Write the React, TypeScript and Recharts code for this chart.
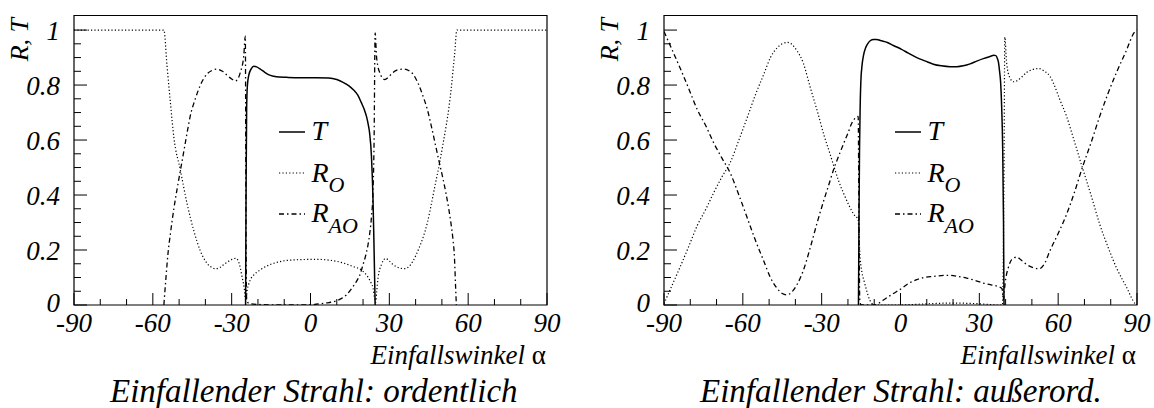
import React from 'react';
import { LineChart, Line, XAxis, YAxis, ReferenceArea } from 'recharts';

type Pt = [number, number];

// Einfallender Strahl: ordentlich
const ordT: Pt[] = [
  [-24.7, 0], [-24.5, 0.45], [-24.3, 0.72], [-24.0, 0.8], [-23.5, 0.835], [-22.5, 0.86],
  [-21.6, 0.868], [-20.5, 0.866], [-19.1, 0.858], [-17.5, 0.847], [-16.0, 0.838], [-14, 0.832],
  [-12, 0.829], [-9, 0.828], [-4, 0.827], [2, 0.827], [7, 0.826], [10, 0.82], [12.4, 0.81],
  [14.5, 0.798], [16.2, 0.784], [18, 0.763], [19.4, 0.735], [20.5, 0.71], [21.3, 0.686],
  [22, 0.655], [22.5, 0.625], [23.2, 0.54], [23.8, 0.38], [24.2, 0.2], [24.6, 0],
];
const ordRO: Pt[] = [
  [-90, 1], [-55.8, 1], [-54.6, 0.87], [-53.3, 0.735], [-52, 0.61], [-49.5, 0.49], [-47, 0.37],
  [-44.4, 0.27], [-41.9, 0.196], [-39.4, 0.152], [-37.5, 0.136], [-36.2, 0.132], [-34.5, 0.136],
  [-33, 0.147], [-31.5, 0.157], [-29.9, 0.166], [-28.4, 0.17], [-27.4, 0.158], [-26.6, 0.13],
  [-26.1, 0.105], [-25.2, 0.06], [-24.7, 0.018], [-24.5, 0.02], [-24.2, 0.047], [-23.5, 0.076],
  [-22.5, 0.099], [-21.6, 0.109], [-19.1, 0.128], [-15.4, 0.147], [-12, 0.157], [-9, 0.162],
  [-4, 0.165], [2, 0.166], [7.3, 0.163], [12.4, 0.153], [16.2, 0.14], [19.4, 0.127],
  [21.9, 0.101], [23.2, 0.077], [23.8, 0.062], [24.4, 0.025], [24.8, 0.01], [25.2, 0.05],
  [25.7, 0.098], [27, 0.147], [28.6, 0.169], [30, 0.16], [31.4, 0.147], [33.5, 0.136],
  [35.8, 0.132], [37.5, 0.14], [39, 0.16], [41, 0.2], [42.8, 0.245], [44.5, 0.3], [46, 0.368],
  [47.5, 0.44], [49.1, 0.515], [50.5, 0.59], [51.6, 0.65], [52.7, 0.72], [53.5, 0.784],
  [54.2, 0.85], [54.8, 0.907], [55.7, 1], [90, 1],
];
const ordRAO: Pt[] = [
  [-55.8, 0], [-55, 0.1], [-54.2, 0.19], [-53.3, 0.26], [-52, 0.35], [-50.8, 0.42], [-49.5, 0.49],
  [-48, 0.57], [-46.8, 0.635], [-45.7, 0.69], [-44, 0.745], [-41.9, 0.8], [-39.4, 0.84],
  [-37.5, 0.853], [-35.6, 0.858], [-33.5, 0.85], [-31.8, 0.836], [-30, 0.822], [-28.6, 0.815],
  [-27.5, 0.825], [-26.7, 0.846], [-25.4, 0.907], [-24.8, 0.978], [-24.55, 0.3], [-24.3, 0.02],
  [-23.5, 0.006], [-20, 0.002], [-10, 0], [0, 0.001], [4.8, 0.006], [7, 0.009], [9.9, 0.015],
  [12, 0.025], [13.7, 0.037], [15.5, 0.058], [17.5, 0.086], [19, 0.115], [20, 0.147], [21, 0.18],
  [21.9, 0.22], [22.6, 0.265], [23.2, 0.32], [23.8, 0.417], [24.2, 0.6], [24.6, 0.99],
  [25.1, 0.907], [25.6, 0.87], [26.3, 0.846], [27.2, 0.828], [28.2, 0.82], [29.8, 0.83],
  [31.4, 0.846], [33.5, 0.856], [35.8, 0.858], [37.5, 0.852], [39, 0.84], [41, 0.805],
  [42.8, 0.76], [44.5, 0.71], [46, 0.65], [47.6, 0.58], [49.1, 0.515], [50.4, 0.46], [51.6, 0.404],
  [52.6, 0.35], [53.5, 0.294], [54.2, 0.24], [54.8, 0.17], [55.2, 0.07], [55.5, 0],
];

// Einfallender Strahl: außerordentlich
const aoT: Pt[] = [
  [-16, 0], [-15.8, 0.3], [-15.6, 0.56], [-15.35, 0.72], [-15.1, 0.81], [-14.6, 0.875],
  [-14.1, 0.907], [-13.3, 0.935], [-12.5, 0.95], [-11.4, 0.962], [-10.3, 0.966], [-9, 0.966],
  [-7.7, 0.962], [-5, 0.955], [-2.7, 0.944], [0.4, 0.93], [3, 0.916], [6.2, 0.9], [9.5, 0.887],
  [12.5, 0.876], [15.5, 0.87], [18.9, 0.867], [21.5, 0.867], [23.9, 0.87], [26.5, 0.877],
  [29, 0.887], [31.5, 0.896], [34.1, 0.904], [35.5, 0.908], [36.3, 0.907], [36.9, 0.896],
  [37.3, 0.882], [37.7, 0.85], [38.1, 0.81], [38.5, 0.72], [38.9, 0.564], [39.2, 0.3], [39.4, 0],
];
const aoRO: Pt[] = [
  [-90, 0.005], [-87, 0.07], [-83.7, 0.142], [-80.5, 0.215], [-77.3, 0.29], [-74, 0.35],
  [-71, 0.41], [-68, 0.465], [-64.7, 0.52], [-61.5, 0.6], [-58.4, 0.68], [-55, 0.77], [-52, 0.84],
  [-49.5, 0.9], [-47, 0.935], [-45, 0.95], [-43, 0.955], [-41, 0.945], [-39.4, 0.925], [-37, 0.88],
  [-34.3, 0.79], [-31.5, 0.7], [-29.2, 0.62], [-27, 0.555], [-25.2, 0.5], [-23.5, 0.45],
  [-21.6, 0.405], [-19.5, 0.36], [-17.8, 0.33], [-16.1, 0.31], [-15.8, 0.25], [-15.3, 0.165],
  [-14.7, 0.12], [-13.8, 0.085], [-12.8, 0.05], [-11.8, 0.02], [-10.9, 0.006], [-10, 0], [0, 0],
  [5, 0.002], [12, 0.005], [19, 0.007], [26, 0.006], [31, 0.004], [36.6, 0], [38.8, 0],
  [39.4, 0.5], [39.7, 0.974], [40.4, 0.88], [41.6, 0.827], [43, 0.812], [44.2, 0.815],
  [46, 0.828], [48, 0.846], [50.5, 0.857], [52.8, 0.86], [54.8, 0.85], [56.8, 0.833], [58.5, 0.8],
  [60.5, 0.75], [63.2, 0.686], [66, 0.6], [69.2, 0.5], [72.5, 0.4], [75.8, 0.294], [79, 0.21],
  [82.2, 0.135], [86, 0.065], [89.3, 0.005], [90, 0],
];
const aoRAO: Pt[] = [
  [-90, 0.995], [-87, 0.93], [-83.7, 0.858], [-80.5, 0.785], [-77.3, 0.71], [-74, 0.65],
  [-71, 0.588], [-68, 0.535], [-64.7, 0.478], [-61.5, 0.4], [-58.4, 0.319], [-55, 0.23],
  [-52, 0.159], [-49.5, 0.1], [-47, 0.061], [-45, 0.042], [-43.2, 0.037], [-41.3, 0.048],
  [-39.4, 0.074], [-37, 0.125], [-34.3, 0.21], [-31.7, 0.3], [-29.2, 0.38], [-27.2, 0.44],
  [-25.2, 0.5], [-23.4, 0.545], [-21.6, 0.588], [-20, 0.625], [-18.5, 0.662], [-17.2, 0.68],
  [-16.1, 0.686], [-15.8, 0.3], [-15.5, 0.02], [-15, 0], [-9.6, 0], [-8, 0.008], [-6.5, 0.018],
  [-3, 0.04], [0.4, 0.06], [3, 0.078], [6.2, 0.092], [9, 0.1], [12.5, 0.104], [15.5, 0.107],
  [18.9, 0.108], [22, 0.104], [25.2, 0.098], [28.5, 0.089], [31.5, 0.08], [34.5, 0.073],
  [37.2, 0.067], [38.6, 0.06], [39.2, 0.02], [39.5, 0.05], [40.1, 0.098], [41, 0.135],
  [42.3, 0.165], [44.2, 0.174], [46, 0.163], [48, 0.147], [50.5, 0.136], [52.8, 0.132],
  [54.8, 0.15], [56.8, 0.196], [60, 0.26], [63.2, 0.33], [66.2, 0.41], [69.2, 0.5], [72.5, 0.59],
  [75.8, 0.686], [79, 0.77], [82.2, 0.846], [85.7, 0.92], [89.1, 0.993], [90, 1],
];

const xTicks = [-90, -80, -70, -60, -50, -40, -30, -20, -10, 0, 10, 20, 30, 40, 50, 60, 70, 80, 90];
const xLabels = [-90, -60, -30, 0, 30, 60, 90];
const yTicks = [0, 0.05, 0.1, 0.15, 0.2, 0.25, 0.3, 0.35, 0.4, 0.45, 0.5, 0.55, 0.6, 0.65, 0.7, 0.75, 0.8, 0.85, 0.9, 0.95, 1];
const yLabels = [0, 0.2, 0.4, 0.6, 0.8, 1];
const YMAX = 1.053;

const W = 577;
const H = 408;
const PLOT_TOP = 15.5;
const PLOT_BOTTOM = 305;

const SERIF = "'Liberation Serif', 'DejaVu Serif', 'Times New Roman', Times, serif";

// italic Times-like text
const txt = (size: number) => ({
  style: { fontFamily: SERIF, fontStyle: 'italic' as const, fontSize: size },
  fill: '#000',
});

const DOTTED = '1.2 2.2';
const DASHDOT = '5 3 1.5 3';

const rows = (pts: Pt[]) => pts.map(([x, y]) => ({ x, y }));

const XTick = (props: any) => {
  const { x, y, payload } = props;
  const v = payload.value;
  const major = xLabels.includes(v);
  return (
    <g>
      <line x1={x} x2={x} y1={y} y2={y - (major ? 12 : 6)} stroke="#000" strokeWidth={1} />
      {major && (
        <text x={x} y={y + 27} textAnchor="middle" {...txt(27)}>
          {v}
        </text>
      )}
    </g>
  );
};

const YTick = (props: any) => {
  const { x, y, payload } = props;
  const v = payload.value;
  const major = yLabels.includes(v);
  return (
    <g>
      <line x1={x} x2={x + (major ? 13 : 7)} y1={y} y2={y} stroke="#000" strokeWidth={1} />
      {major && (
        <text x={x - 14} y={y + (v === 0 ? 7 : 10)} textAnchor="end" {...txt(27)}>
          {v === 0 || v === 1 ? String(v) : v.toFixed(1)}
        </text>
      )}
    </g>
  );
};

type PanelProps = {
  left: number;
  plotLeft: number;
  plotRight: number;
  t: Pt[];
  ro: Pt[];
  rao: Pt[];
  title: string;
  legendX: number;
};

const Panel = ({ left, plotLeft, plotRight, t, ro, rao, title, legendX }: PanelProps) => (
  <div style={{ position: 'absolute', left, top: 0, width: W, height: H, fontFamily: SERIF }}>
    <LineChart
      width={W}
      height={H}
      margin={{ top: PLOT_TOP, left: plotLeft - 60, right: W - plotRight, bottom: H - PLOT_BOTTOM - 30 }}
    >
      <XAxis
        type="number"
        dataKey="x"
        domain={[-90, 90]}
        ticks={xTicks}
        interval={0}
        height={30}
        tickSize={0}
        tickMargin={0}
        tickLine={false}
        axisLine={false}
        allowDataOverflow
        tick={(p: any) => <XTick {...p} />}
      />
      <YAxis
        type="number"
        domain={[0, YMAX]}
        ticks={yTicks}
        interval={0}
        width={60}
        tickSize={0}
        tickMargin={0}
        tickLine={false}
        axisLine={false}
        allowDataOverflow
        tick={(p: any) => <YTick {...p} />}
      />
      <ReferenceArea x1={-90} x2={90} y1={0} y2={YMAX} fill="none" stroke="#000" strokeWidth={1.2} />
      <Line data={rows(ro)} dataKey="y" type="monotone" stroke="#000" strokeWidth={1.2}
        strokeDasharray={DOTTED} dot={false} activeDot={false} isAnimationActive={false} />
      <Line data={rows(rao)} dataKey="y" type="monotone" stroke="#000" strokeWidth={1.3}
        strokeDasharray={DASHDOT} dot={false} activeDot={false} isAnimationActive={false} />
      <Line data={rows(t)} dataKey="y" type="monotone" stroke="#000" strokeWidth={1.5}
        dot={false} activeDot={false} isAnimationActive={false} />
    </LineChart>
    <svg width={W} height={H} style={{ position: 'absolute', left: 0, top: 0, pointerEvents: 'none' }}>
      <text transform={`translate(${plotLeft - 46}, 18) rotate(-90)`} textAnchor="end" {...txt(26)}>
        R, T
      </text>
      <text x={plotRight - 1} y={364} textAnchor="end" {...txt(27)}>
        Einfallswinkel <tspan style={{ fontStyle: 'normal' }}>α</tspan>
      </text>
      <text x={plotLeft + 36} y={402} {...txt(33)}>
        {title}
      </text>
      {/* legend */}
      <line x1={legendX} x2={legendX + 26} y1={132} y2={132} stroke="#000" strokeWidth={1.5} />
      <text x={legendX + 32.5} y={140} {...txt(28)}>T</text>
      <line x1={legendX} x2={legendX + 26} y1={173} y2={173} stroke="#000" strokeWidth={1.2} strokeDasharray={DOTTED} />
      <text x={legendX + 32.5} y={182} {...txt(28)}>
        R<tspan dy={10} style={{ fontSize: 22 }}>O</tspan>
      </text>
      <line x1={legendX} x2={legendX + 26} y1={214} y2={214} stroke="#000" strokeWidth={1.3} strokeDasharray={DASHDOT} />
      <text x={legendX + 32.5} y={222} {...txt(28)}>
        R<tspan dy={11} style={{ fontSize: 22 }}>AO</tspan>
      </text>
    </svg>
  </div>
);

export default function App() {
  return (
    <div style={{ position: 'absolute', left: 0, top: 0, width: 1154, height: 408, background: '#fff' }}>
      <Panel left={0} plotLeft={74} plotRight={547} t={ordT} ro={ordRO} rao={ordRAO}
        title="Einfallender Strahl: ordentlich" legendX={279} />
      <Panel left={577} plotLeft={87} plotRight={560} t={aoT} ro={aoRO} rao={aoRAO}
        title="Einfallender Strahl: außerord." legendX={318} />
    </div>
  );
}
